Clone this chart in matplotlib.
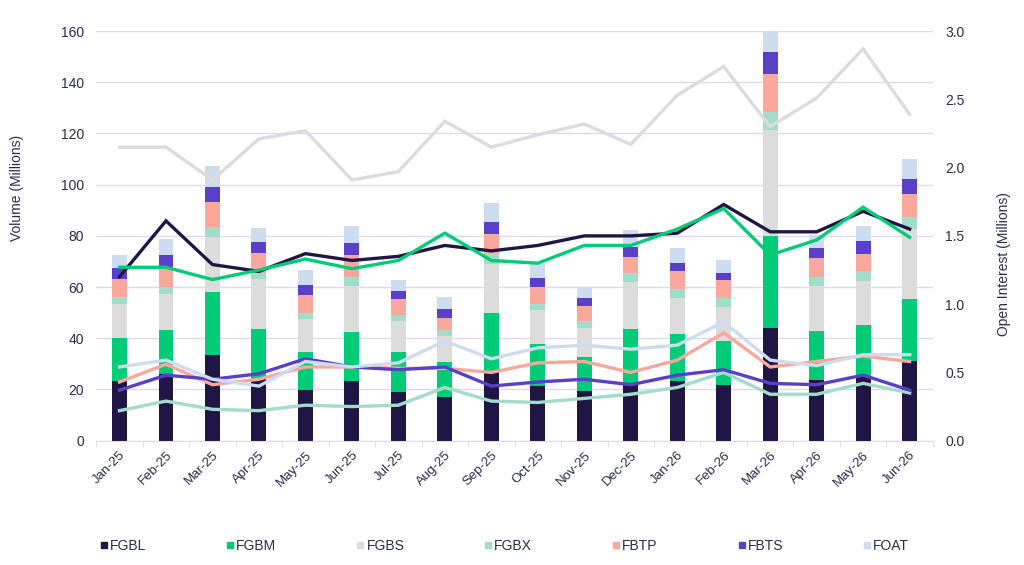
import numpy as np
import matplotlib
matplotlib.use("Agg")
from matplotlib import pyplot as plt
from matplotlib.lines import Line2D

plt.rcParams["font.family"] = ["Liberation Sans", "DejaVu Sans"]

meses = ["Jan-25", "Feb-25", "Mar-25", "Apr-25", "May-25", "Jun-25", "Jul-25",
         "Aug-25", "Sep-25", "Oct-25", "Nov-25", "Dec-25", "Jan-26", "Feb-26",
         "Mar-26", "Apr-26", "May-26", "Jun-26"]
productos = ["FGBL", "FGBM", "FGBS", "FGBX", "FBTP", "FBTS", "FOAT"]

# volumen mensual (millones de contratos)
vol_fgbl = [23.4, 26.0, 33.6, 24.0, 19.9, 23.2, 19.0, 16.9, 27.3, 21.2, 19.3, 22.0, 23.4, 21.7, 44.1, 23.8, 25.1, 31.1]
vol_fgbm = [16.7, 17.3, 24.3, 19.7, 14.6, 19.2, 15.5, 13.8, 22.7, 16.7, 13.5, 21.7, 18.4, 17.3, 35.9, 18.9, 20.2, 24.3]
vol_fgbs = [13.4, 13.9, 21.8, 19.4, 13.1, 18.2, 12.3, 10.3, 18.9, 13.1, 11.3, 18.3, 14.1, 13.4, 41.4, 17.9, 17.1, 27.3]
vol_fgbx = [2.6, 2.8, 3.7, 2.3, 2.2, 3.5, 2.4, 2.1, 4.3, 2.5, 2.5, 3.4, 3.5, 3.5, 7.0, 3.4, 3.7, 4.7]
vol_fbtp = [7.0, 7.8, 10.0, 8.1, 7.0, 8.4, 6.1, 5.0, 7.7, 6.7, 6.2, 6.5, 6.7, 6.8, 14.7, 7.4, 7.0, 9.1]
vol_fbts = [4.2, 4.9, 5.8, 4.2, 4.2, 4.8, 3.0, 3.3, 4.7, 3.3, 3.1, 3.9, 3.2, 2.7, 8.6, 3.7, 4.9, 5.6]
vol_foat = [5.4, 6.1, 8.1, 5.4, 5.5, 6.7, 4.4, 4.8, 7.3, 5.4, 3.9, 6.5, 5.8, 5.2, 8.3, 5.3, 5.8, 7.9]

# open interest (millones)
oi_fgbl = [1.20, 1.61, 1.29, 1.24, 1.37, 1.32, 1.35, 1.43, 1.39, 1.43, 1.50, 1.50, 1.52, 1.73, 1.53, 1.53, 1.68, 1.55]
oi_fgbm = [1.27, 1.27, 1.18, 1.25, 1.33, 1.26, 1.32, 1.52, 1.32, 1.30, 1.43, 1.43, 1.55, 1.70, 1.36, 1.47, 1.71, 1.49]
oi_fgbs = [2.15, 2.15, 1.91, 2.21, 2.27, 1.91, 1.97, 2.34, 2.15, 2.24, 2.32, 2.17, 2.53, 2.74, 2.30, 2.51, 2.87, 2.39]
oi_fgbx = [0.22, 0.29, 0.23, 0.22, 0.26, 0.25, 0.26, 0.39, 0.29, 0.28, 0.31, 0.34, 0.39, 0.50, 0.34, 0.34, 0.42, 0.35]
oi_fbtp = [0.43, 0.56, 0.41, 0.45, 0.54, 0.54, 0.53, 0.53, 0.50, 0.57, 0.58, 0.50, 0.59, 0.79, 0.54, 0.58, 0.62, 0.58]
oi_fbts = [0.37, 0.48, 0.45, 0.49, 0.60, 0.54, 0.52, 0.54, 0.40, 0.43, 0.45, 0.41, 0.48, 0.52, 0.42, 0.41, 0.48, 0.37]
oi_foat = [0.54, 0.59, 0.45, 0.40, 0.58, 0.54, 0.57, 0.73, 0.60, 0.68, 0.70, 0.67, 0.70, 0.87, 0.59, 0.55, 0.63, 0.63]

colores = ["#1f1646", "#00cc78", "#dcdcdc", "#a3dcc8", "#fba89c", "#5a3fc8", "#cddcee"]
texto = "#2b2a4c"
rejilla = "#dcd8f5"

volumenes = [vol_fgbl, vol_fgbm, vol_fgbs, vol_fgbx, vol_fbtp, vol_fbts, vol_foat]
intereses = [oi_fgbl, oi_fgbm, oi_fgbs, oi_fgbx, oi_fbtp, oi_fbts, oi_foat]

fig = plt.figure(figsize=(10.24, 5.65), dpi=100)
ax = fig.add_axes([0.094, 0.22, 0.817, 0.725])
x = np.arange(len(meses))

# barras apiladas de volumen
base = np.zeros(len(meses))
for vals, col, nombre in zip(volumenes, colores, productos):
    ax.bar(x, vals, width=0.32, bottom=base, color=col, label=nombre, zorder=2)
    base = base + np.array(vals)

ax.set_ylim(0, 160)
ax.set_yticks(range(0, 161, 20))
ax.set_xlim(-0.5, len(meses) - 0.5)
ax.set_xticks(x)
ax.set_xticklabels(meses, rotation=45, ha="right", rotation_mode="anchor")
ax.set_xticks(np.arange(-0.5, len(meses), 1), minor=True)
ax.tick_params(axis="x", which="major", length=0, pad=6, labelsize=9.5, colors=texto)
ax.tick_params(axis="x", which="minor", length=4, color=rejilla)
ax.tick_params(axis="y", length=0, labelsize=10, colors=texto, pad=9)
ax.grid(axis="y", color=rejilla, linewidth=1, zorder=0)
for s in ["top", "right", "left"]:
    ax.spines[s].set_visible(False)
ax.spines["bottom"].set_color(rejilla)
ax.set_ylabel("Volume (Millions)", color=texto, fontsize=10)
ax.yaxis.set_label_coords(-0.086, 0.617)

# lineas de open interest en el eje derecho
ax2 = ax.twinx()
for vals, col in zip(intereses, colores):
    ax2.plot(x, vals, color=col, linewidth=2.4, solid_joinstyle="miter", zorder=3)
ax2.set_ylim(0, 3.0)
ax2.set_yticks(np.arange(0, 3.01, 0.5))
ax2.set_yticklabels([f"{v:.1f}" for v in np.arange(0, 3.01, 0.5)])
ax2.tick_params(axis="y", length=0, labelsize=10, colors=texto, pad=9)
for s in ax2.spines.values():
    s.set_visible(False)
ax2.set_ylabel("Open Interest (Millions)", color=texto, fontsize=10)
ax2.yaxis.set_label_coords(1.0765, 0.43)

handles = [Line2D([], [], marker="s", linestyle="none", markersize=4.5, color=c) for c in colores]
leg = fig.legend(handles, productos, loc="center", bbox_to_anchor=(0.0986, 0.0336, 0.789, 0),
                 ncol=7, mode="expand", frameon=False, handletextpad=0.2,
                 handlelength=0.45, borderpad=0, borderaxespad=0, fontsize=10)
for t in leg.get_texts():
    t.set_color(texto)

fig.savefig("out.png", dpi=100)
